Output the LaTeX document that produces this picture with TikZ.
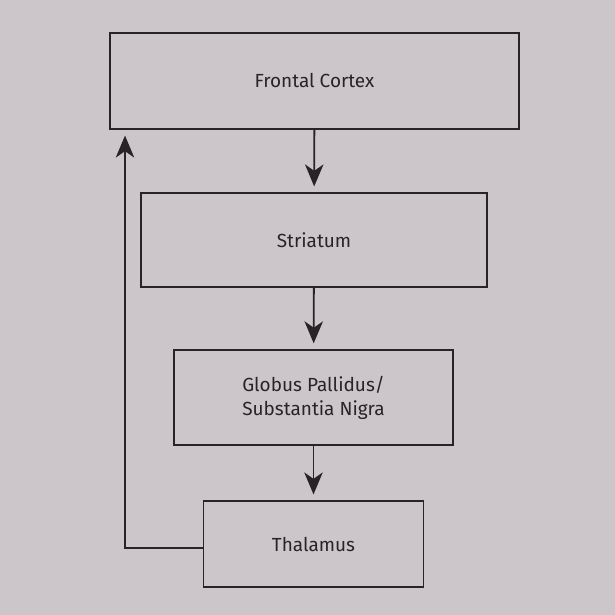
\documentclass[tikz,border=0pt]{standalone}
\usepackage{fontspec}
\setmainfont{Fira Sans}
\usetikzlibrary{positioning,shapes,arrows.meta}

\definecolor{slidegrey}{RGB}{204,198,202}
\definecolor{inkgrey}{RGB}{40,36,38}

\tikzset{
  stage/.style={rectangle, draw=inkgrey, line width=1.3pt, align=center, text=inkgrey, font=\fontsize{13.5}{17}\selectfont},
  flow/.style={-{Stealth[length=5.5mm,width=4.6mm,inset=1.6mm]}, draw=inkgrey, line width=1.3pt, shorten >=4pt}
}

\begin{document}
\begin{tikzpicture}[x=0.025cm, y=-0.025cm]
      %\draw[help lines] (0, 0) grid (615, 615);
      \fill[slidegrey] (0, 0) rectangle (615, 615);
      \useasboundingbox (0, 0) rectangle (615, 615);

      \node [stage, minimum width=10.22cm, minimum height=2.4cm] (frontal) at (314.5, 81) {Frontal Cortex};
      \node [stage, minimum width=8.65cm, minimum height=2.35cm] (striatum) at (314, 240) {Striatum};
      \node [stage, minimum width=6.98cm, minimum height=2.38cm] (pallidus) at (313.5, 397.5) {Globus Pallidus/\\Substantia Nigra};
      \node [stage, minimum width=5.5cm, minimum height=2.15cm] (thalamus) at (313.5, 544) {Thalamus};

      \coordinate (loop) at (125, 548);

      \draw[flow] (frontal) -- (striatum);
      \draw[flow] (striatum) -- (pallidus);
      \draw[flow] (pallidus) -- (thalamus);
      \draw[flow] (thalamus.west |- loop) -- (loop) -- (loop |- frontal.south);

    \end{tikzpicture}
\end{document}
